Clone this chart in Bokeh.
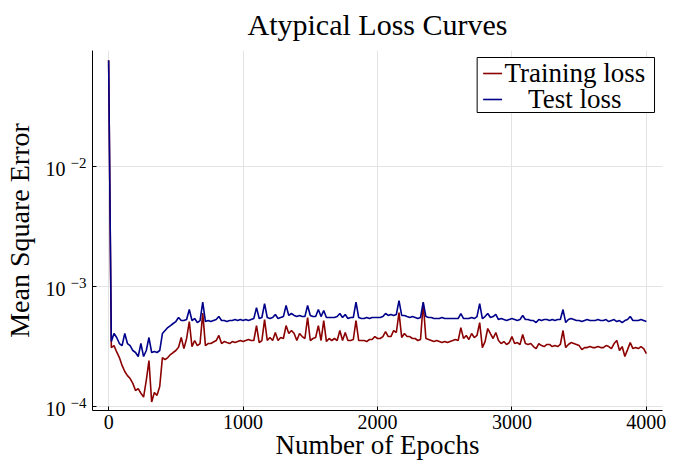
from bokeh.plotting import figure
from bokeh.models import (FixedTicker, BoxAnnotation, Label, ColumnDataSource,
                          LogAxis, LogScale, Range1d)
from bokeh.embed import file_html
from bokeh.resources import INLINE

# Loss logged every 20 epochs
epochs = list(range(0, 4001, 20))

train_loss = [
    7.70e-2, 3.10e-4, 3.22e-4, 2.85e-4, 2.56e-4, 2.20e-4, 1.96e-4, 1.81e-4, 1.71e-4, 1.56e-4,
    1.36e-4, 1.41e-4, 1.29e-4, 1.20e-4, 1.65e-4, 2.42e-4, 1.09e-4, 1.31e-4, 1.24e-4, 1.47e-4,
    2.56e-4, 2.46e-4, 2.56e-4, 2.71e-4, 2.82e-4, 2.93e-4, 3.12e-4, 3.76e-4, 3.04e-4, 3.69e-4,
    5.11e-4, 3.16e-4, 3.55e-4, 3.22e-4, 3.35e-4, 6.00e-4, 3.22e-4, 3.35e-4, 3.35e-4, 3.45e-4,
    3.55e-4, 3.91e-4, 3.35e-4, 3.48e-4, 3.41e-4, 3.35e-4, 3.48e-4, 3.41e-4, 3.48e-4, 3.55e-4,
    3.48e-4, 3.55e-4, 3.62e-4, 3.55e-4, 3.55e-4, 4.73e-4, 3.41e-4, 3.55e-4, 5.31e-4, 3.55e-4,
    3.76e-4, 3.55e-4, 4.14e-4, 3.55e-4, 3.76e-4, 3.69e-4, 4.73e-4, 4.06e-4, 4.30e-4, 4.06e-4,
    3.55e-4, 4.06e-4, 3.83e-4, 3.69e-4, 5.52e-4, 3.55e-4, 3.69e-4, 3.76e-4, 4.73e-4, 3.55e-4,
    5.21e-4, 3.48e-4, 3.69e-4, 3.55e-4, 3.69e-4, 3.55e-4, 4.30e-4, 3.55e-4, 4.14e-4, 3.55e-4,
    3.55e-4, 3.62e-4, 5.21e-4, 3.55e-4, 3.55e-4, 3.55e-4, 3.48e-4, 3.62e-4, 3.62e-4, 3.83e-4,
    3.69e-4, 3.69e-4, 3.83e-4, 4.22e-4, 3.83e-4, 3.83e-4, 4.30e-4, 4.14e-4, 6.07e-4, 3.76e-4,
    4.06e-4, 3.83e-4, 3.83e-4, 3.69e-4, 3.69e-4, 3.55e-4, 3.62e-4, 7.30e-4, 3.69e-4, 3.62e-4,
    3.55e-4, 3.48e-4, 3.55e-4, 3.48e-4, 3.41e-4, 3.48e-4, 3.41e-4, 3.48e-4, 3.55e-4, 3.62e-4,
    3.55e-4, 4.55e-4, 3.69e-4, 3.91e-4, 3.62e-4, 4.06e-4, 3.76e-4, 3.91e-4, 5.01e-4, 3.10e-4,
    3.48e-4, 4.47e-4, 4.06e-4, 3.69e-4, 4.14e-4, 3.55e-4, 3.35e-4, 3.48e-4, 3.29e-4, 3.41e-4,
    3.83e-4, 3.35e-4, 3.41e-4, 3.29e-4, 3.98e-4, 3.35e-4, 3.29e-4, 3.35e-4, 3.16e-4, 3.04e-4,
    3.35e-4, 3.22e-4, 3.16e-4, 3.29e-4, 3.29e-4, 3.16e-4, 3.22e-4, 3.16e-4, 3.29e-4, 4.30e-4,
    3.10e-4, 3.29e-4, 3.41e-4, 3.35e-4, 3.29e-4, 3.22e-4, 2.98e-4, 3.10e-4, 3.10e-4, 3.16e-4,
    3.10e-4, 3.10e-4, 3.16e-4, 3.10e-4, 3.10e-4, 3.22e-4, 3.16e-4, 3.04e-4, 3.35e-4, 3.55e-4,
    2.93e-4, 3.16e-4, 2.61e-4, 2.98e-4, 3.41e-4, 3.04e-4, 3.10e-4, 3.04e-4, 3.16e-4, 3.04e-4,
    2.76e-4,
]

test_loss = [
    7.64e-2, 3.48e-4, 4.06e-4, 3.76e-4, 3.35e-4, 3.22e-4, 4.06e-4, 3.35e-4, 3.22e-4, 2.93e-4,
    2.82e-4, 2.61e-4, 3.35e-4, 2.61e-4, 2.93e-4, 3.76e-4, 2.82e-4, 2.87e-4, 2.82e-4, 2.93e-4,
    4.06e-4, 4.30e-4, 4.55e-4, 4.73e-4, 4.92e-4, 5.11e-4, 5.52e-4, 5.21e-4, 5.21e-4, 5.31e-4,
    6.43e-4, 5.21e-4, 5.41e-4, 5.01e-4, 5.21e-4, 7.40e-4, 5.11e-4, 5.21e-4, 5.11e-4, 5.21e-4,
    5.31e-4, 5.62e-4, 5.21e-4, 5.21e-4, 5.11e-4, 5.21e-4, 5.21e-4, 5.31e-4, 5.21e-4, 5.31e-4,
    5.21e-4, 5.31e-4, 5.21e-4, 5.31e-4, 5.41e-4, 6.68e-4, 5.41e-4, 5.52e-4, 7.21e-4, 5.52e-4,
    5.41e-4, 5.52e-4, 5.85e-4, 5.41e-4, 5.52e-4, 5.62e-4, 6.95e-4, 5.74e-4, 5.96e-4, 5.74e-4,
    5.62e-4, 5.74e-4, 5.62e-4, 5.62e-4, 6.95e-4, 5.74e-4, 5.62e-4, 5.62e-4, 6.43e-4, 5.62e-4,
    6.31e-4, 5.52e-4, 5.52e-4, 5.52e-4, 5.52e-4, 5.62e-4, 5.96e-4, 5.52e-4, 5.85e-4, 5.41e-4,
    5.52e-4, 5.52e-4, 7.40e-4, 5.52e-4, 5.41e-4, 5.41e-4, 5.52e-4, 5.41e-4, 5.52e-4, 5.52e-4,
    5.52e-4, 5.52e-4, 5.62e-4, 5.96e-4, 5.74e-4, 5.85e-4, 5.74e-4, 5.85e-4, 7.64e-4, 5.74e-4,
    5.74e-4, 5.62e-4, 5.52e-4, 5.62e-4, 5.52e-4, 5.41e-4, 5.52e-4, 7.40e-4, 5.62e-4, 5.52e-4,
    5.52e-4, 5.41e-4, 5.41e-4, 5.41e-4, 5.52e-4, 5.41e-4, 5.41e-4, 5.41e-4, 5.41e-4, 5.41e-4,
    5.41e-4, 5.96e-4, 5.41e-4, 5.41e-4, 5.41e-4, 5.52e-4, 5.41e-4, 5.62e-4, 7.21e-4, 5.41e-4,
    5.62e-4, 5.96e-4, 5.52e-4, 5.62e-4, 5.85e-4, 5.31e-4, 5.41e-4, 5.31e-4, 5.21e-4, 5.31e-4,
    5.41e-4, 5.31e-4, 5.21e-4, 5.31e-4, 5.74e-4, 5.31e-4, 5.31e-4, 5.21e-4, 5.21e-4, 5.01e-4,
    5.31e-4, 5.21e-4, 5.31e-4, 5.31e-4, 5.21e-4, 5.31e-4, 5.21e-4, 5.31e-4, 5.31e-4, 6.43e-4,
    5.01e-4, 5.31e-4, 5.41e-4, 5.31e-4, 5.21e-4, 5.21e-4, 5.11e-4, 5.21e-4, 5.31e-4, 5.21e-4,
    5.21e-4, 5.21e-4, 5.31e-4, 5.21e-4, 5.21e-4, 5.31e-4, 5.11e-4, 5.21e-4, 5.31e-4, 5.11e-4,
    5.21e-4, 5.01e-4, 5.21e-4, 5.31e-4, 5.62e-4, 5.21e-4, 5.21e-4, 5.21e-4, 5.31e-4, 5.21e-4,
    5.11e-4,
]

assert len(epochs) == len(train_loss) == len(test_loss)

x_ticks = [0, 1000, 2000, 3000, 4000]
y_ticks = [1e-4, 1e-3, 1e-2]
y_tick_base = "10"
y_tick_exponents = ["\u22124", "\u22123", "\u22122"]

series_names = ["Training loss", "Test loss"]
series_colors = ["#8b0000", "#00008b"]

FONT = "Liberation Serif"

# Axis extents (a 3% margin around the data)
X_LO, X_HI = -120, 4120
LOG_LO, LOG_HI = -4.033, -1.033

# Frame geometry in pixels
W, H = 678, 462
B_LEFT, B_RIGHT, B_TOP, B_BOTTOM = 90, 16, 50, 52
FRAME_W = W - B_LEFT - B_RIGHT
FRAME_H = H - B_TOP - B_BOTTOM


def fx(px):
    """pixel column -> epoch value"""
    return X_LO + (px - B_LEFT) / FRAME_W * (X_HI - X_LO)


def fy(py):
    """pixel row -> loss value on the log axis"""
    return 10 ** (LOG_HI - (py - B_TOP) / FRAME_H * (LOG_HI - LOG_LO))


def shift(v, dpx):
    """scale a loss value so it sits dpx pixels higher on the log axis"""
    return v * 10 ** (-dpx * (LOG_HI - LOG_LO) / FRAME_H)


def shifted_range(dpx):
    return Range1d(shift(10 ** LOG_LO, dpx), shift(10 ** LOG_HI, dpx))


p = figure(
    width=W, height=H,
    y_axis_type="log",
    x_range=(X_LO, X_HI),
    y_range=(10 ** LOG_LO, 10 ** LOG_HI),
    output_backend="svg",
    toolbar_location=None,
    min_border_left=B_LEFT, min_border_right=B_RIGHT,
    min_border_top=B_TOP, min_border_bottom=B_BOTTOM,
    title="Atypical Loss Curves",
)
p.outline_line_color = None
p.background_fill_color = "white"
p.border_fill_color = "white"

p.title.align = "center"
p.title.vertical_align = "top"
p.title.text_font = FONT
p.title.text_font_size = "30px"
p.title.text_font_style = "normal"
p.title.text_color = "black"
p.title.standoff = 15

source = ColumnDataSource(dict(epoch=epochs, train=train_loss, test=test_loss))
p.line("epoch", "train", source=source, color=series_colors[0], line_width=1.6)
p.line("epoch", "test", source=source, color=series_colors[1], line_width=1.6)

# grid
p.grid.grid_line_color = "#e3e3e3"
p.grid.grid_line_width = 1
p.grid.minor_grid_line_color = None

# x axis
p.xaxis.ticker = FixedTicker(ticks=x_ticks)
p.xaxis.axis_label = "Number of Epochs"
p.xaxis.axis_label_text_font_size = "27px"
p.xaxis.major_label_text_font_size = "20px"
p.xaxis.major_label_standoff = 4
p.xaxis.axis_label_standoff = -2

# y axis: the frame-side axis draws the line and ticks only; two label-only
# axes further out write the raised exponents and the "10" mantissas
p.yaxis.ticker = FixedTicker(ticks=y_ticks)
p.yaxis.major_label_overrides = {t: "" for t in y_ticks}
p.yaxis.major_label_standoff = 0

p.extra_y_ranges = {"exponent": shifted_range(4), "mantissa": shifted_range(-2)}
p.extra_y_scales = {"exponent": LogScale(), "mantissa": LogScale()}

exp_axis = LogAxis(
    y_range_name="exponent",
    ticker=FixedTicker(ticks=y_ticks),
    major_label_overrides=dict(zip(y_ticks, y_tick_exponents)),
)
p.add_layout(exp_axis, "left")
exp_axis.major_label_text_font_size = "15px"
exp_axis.major_label_standoff = 6

mant_axis = LogAxis(
    y_range_name="mantissa",
    ticker=FixedTicker(ticks=y_ticks),
    major_label_overrides={t: y_tick_base for t in y_ticks},
    axis_label="Mean Square Error",
)
p.add_layout(mant_axis, "left")
mant_axis.major_label_text_font_size = "20px"
mant_axis.major_label_standoff = 2
mant_axis.axis_label_text_font_size = "28px"
mant_axis.axis_label_standoff = 8

for ax in (exp_axis, mant_axis):
    ax.axis_line_color = None
    ax.major_tick_line_color = None
for ax in (p.xaxis[0], p.yaxis[0]):
    ax.axis_line_color = "black"
    ax.axis_line_width = 1
    ax.major_tick_line_color = "black"
    ax.major_tick_in = 4
for ax in (p.xaxis[0], p.yaxis[0], exp_axis, mant_axis):
    ax.minor_tick_line_color = None
    ax.major_tick_out = 0
    ax.major_label_text_font = FONT
    ax.major_label_text_color = "black"
    ax.axis_label_text_font = FONT
    ax.axis_label_text_font_style = "normal"
    ax.axis_label_text_color = "black"

# legend in the frame's upper right corner
p.add_layout(BoxAnnotation(
    left=fx(476), right=fx(654), top=fy(57), bottom=fy(112),
    fill_color="white", fill_alpha=1.0,
    line_color="black", line_alpha=1.0, line_width=1,
))
rows = [73, 99]
for name, color, row in zip(series_names, series_colors, rows):
    sample = p.segment(x0=[fx(482)], x1=[fx(501)], y0=[fy(row)], y1=[fy(row)],
                       line_color=color, line_width=1.6)
    sample.level = "overlay"
    p.add_layout(Label(
        x=fx(574), y=fy(row - 1), text=name,
        text_font=FONT, text_font_size="27px", text_color="black",
        text_align="center", text_baseline="alphabetic",
    ))

open("out.html", "w").write(file_html(p, INLINE))
